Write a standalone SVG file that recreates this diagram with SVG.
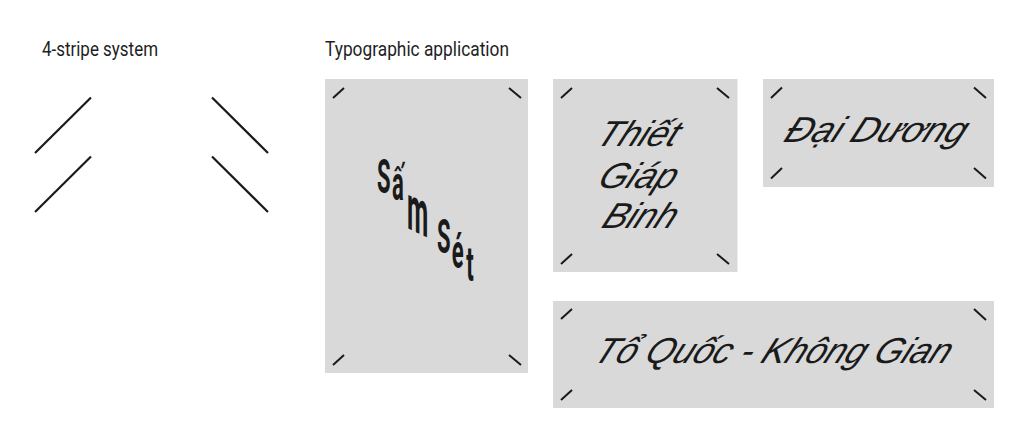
<svg xmlns="http://www.w3.org/2000/svg" width="1024" height="437" viewBox="0 0 1024 437">
<style>
.bg{fill:#ffffff}
.card{fill:#d9d9d9}
.stripe{stroke:#1a1a1a;stroke-width:2.2;fill:none}
.tick{stroke:#1a1a1a;stroke-width:2;fill:none}
.title{font-family:Roboto,"Liberation Sans",sans-serif;font-size:20px;fill:#1e1e1e}
.script{font-family:"Liberation Sans",Arial,sans-serif;font-style:italic;font-size:36px;fill:#1a1a1a;text-anchor:middle}
.cond{font-family:Roboto,"Liberation Sans",sans-serif;font-weight:700;font-size:49px;fill:#1a1a1a}
</style>
<rect class="bg" x="0" y="0" width="1024" height="437"/>
<g id="labels">
<text class="title" x="42" y="56" textLength="116" lengthAdjust="spacingAndGlyphs">4-stripe system</text>
<text class="title" x="325" y="56" textLength="184" lengthAdjust="spacingAndGlyphs">Typographic application</text>
</g>
<g id="stripe-system">
<line class="stripe" x1="35" y1="153" x2="91" y2="97.5"/>
<line class="stripe" x1="35" y1="212" x2="91" y2="156.5"/>
<line class="stripe" x1="212" y1="97.5" x2="268" y2="153"/>
<line class="stripe" x1="212" y1="156.5" x2="268" y2="212"/>
</g>
<g id="card-sam-set">
<rect class="card" x="325" y="79" width="203" height="294"/>
<line class="tick" x1="333" y1="98" x2="344" y2="88"/>
<line class="tick" x1="509" y1="88" x2="521" y2="98"/>
<line class="tick" x1="333" y1="365" x2="344" y2="355"/>
<line class="tick" x1="509" y1="355" x2="521" y2="365"/>
<g transform="scale(0.45,1)">
<text class="cond"><tspan x="838" y="193">S</tspan><tspan x="871" y="200">ấ</tspan><tspan x="971" y="253">S</tspan><tspan x="1004" y="268">é</tspan><tspan x="1036" y="281">t</tspan></text>
</g>
<text class="cond" transform="translate(407,228) skewY(25) scale(0.5,1.3)">m</text>
</g>
<g id="card-thiet-giap-binh">
<rect class="card" x="553" y="79" width="184.5" height="193"/>
<line class="tick" x1="561" y1="98" x2="572" y2="88"/>
<line class="tick" x1="717" y1="88" x2="729" y2="98"/>
<line class="tick" x1="561" y1="264" x2="572" y2="254"/>
<line class="tick" x1="717" y1="254" x2="729" y2="264"/>
<text class="script" transform="translate(634,146) skewX(-24)">Thiết</text>
<text class="script" transform="translate(634,188) skewX(-24)">Giáp</text>
<text class="script" transform="translate(636,228) skewX(-24)">Binh</text>
</g>
<g id="card-dai-duong">
<rect class="card" x="763" y="79" width="231" height="108"/>
<line class="tick" x1="771" y1="98" x2="782" y2="87.5"/>
<line class="tick" x1="974" y1="87.5" x2="986" y2="98"/>
<line class="tick" x1="771" y1="178.5" x2="782" y2="168"/>
<line class="tick" x1="974" y1="168" x2="986" y2="178.5"/>
<text class="script" transform="translate(872,142) skewX(-24)" textLength="180" lengthAdjust="spacingAndGlyphs">Đại Dương</text>
</g>
<g id="card-to-quoc">
<rect class="card" x="553" y="301" width="441" height="107"/>
<line class="tick" x1="561" y1="319" x2="572" y2="309"/>
<line class="tick" x1="974" y1="309" x2="986" y2="320"/>
<line class="tick" x1="561" y1="400" x2="572" y2="390"/>
<line class="tick" x1="974" y1="390" x2="986" y2="400"/>
<text class="script" transform="translate(769,363) skewX(-24)" textLength="355" lengthAdjust="spacingAndGlyphs">Tổ Quốc - Không Gian</text>
</g>
</svg>
